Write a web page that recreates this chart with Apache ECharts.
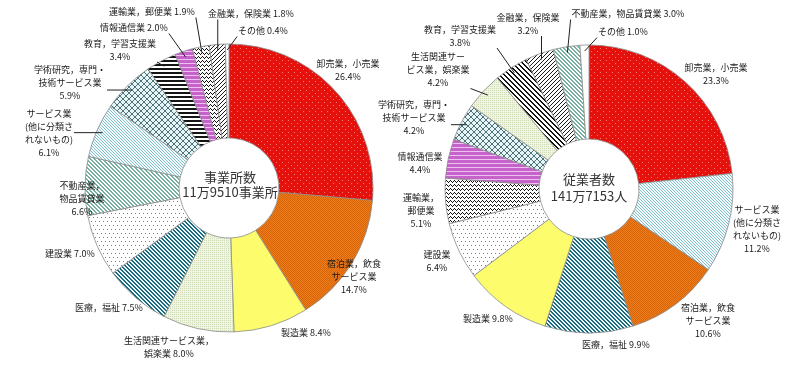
<!DOCTYPE html>
<html><head><meta charset="utf-8">
<script src="https://cdn.jsdelivr.net/npm/echarts@6/dist/echarts.min.js"></script>
<style>html,body{margin:0;padding:0;background:#fff}#c{width:800px;height:372px}</style>
</head><body><div id="c"></div>
<script>
// ---- data ----
const leftCategories = ['卸売業，小売業','宿泊業，飲食サービス業','製造業','生活関連サービス業，娯楽業','医療，福祉','建設業','不動産業，物品賃貸業','サービス業（他に分類されないもの）','学術研究，専門・技術サービス業','教育，学習支援業','情報通信業','運輸業，郵便業','金融業，保険業','その他'];
const leftValues = [26.4,14.7,8.4,8.0,7.5,7.0,6.6,6.1,5.9,3.4,2.0,1.9,1.8,0.4];
const leftLabelNames = ['卸売業，小売業\n','宿泊業，飲食\nサービス業\n','製造業 ','生活関連サービス業，\n娯楽業 ','医療，福祉 ','建設業 ','不動産業，\n物品賃貸業\n','サービス業\n(他に分類さ\nれないもの)\n','学術研究，専門・\n技術サービス業\n','教育，学習支援業\n','情報通信業 ','運輸業，郵便業 ','金融業，保険業 ','その他 '];
const leftCenterText = ['事業所数','11万9510事業所'];

const rightCategories = ['卸売業，小売業','サービス業（他に分類されないもの）','宿泊業，飲食サービス業','医療，福祉','製造業','建設業','運輸業，郵便業','情報通信業','学術研究，専門・技術サービス業','生活関連サービス業，娯楽業','教育，学習支援業','金融業，保険業','不動産業，物品賃貸業','その他'];
const rightValues = [23.3,11.2,10.6,9.9,9.8,6.4,5.1,4.4,4.2,4.2,3.8,3.2,3.0,1.0];
const rightLabelNames = ['卸売業，小売業\n','サービス業\n(他に分類さ\nれないもの)\n','宿泊業，飲食\nサービス業\n','医療，福祉 ','製造業 ','建設業\n','運輸業，\n郵便業\n','情報通信業\n','学術研究，専門・\n技術サービス業\n','生活関連サー\nビス業，娯楽業\n','教育，学習支援業\n','金融業，保険業\n','不動産業，物品賃貸業 ','その他 '];
const rightCenterText = ['従業者数','141万7153人'];

// ---- layout (label centre offsets from pie centre, leader-line flags) ----
const leftLayout = {
  cx: 229, cy: 188,
  offsets: [[119,-118],[125,89],[77,145],[-60,159],[-120,120],[-159,66],[-147,11],[-180,-55],[-159,-105],[-109,-138],[-95,-160],[-77,-176],[22,-174],[34,-157]],
  lines: [0,0,0,0,0,0,0,1,1,1,1,1,1,1]
};
const rightLayout = {
  cx: 589, cy: 189,
  offsets: [[127,-115],[168,40],[119,132],[27,156],[-101,130],[-152,72],[-168,22],[-169,-26],[-175,-71],[-151,-119],[-129,-153],[-61,-165],[39,-175],[34,-157]],
  lines: [0,0,0,0,0,0,0,0,1,1,1,1,1,1]
};
const R_IN = 50, R_OUT = 144, R_LINE = 138;

// ---- patterns ----
function tile(w, h, bg, draw) {
  const c = document.createElement('canvas'); c.width = w; c.height = h;
  const g = c.getContext('2d'); g.fillStyle = bg; g.fillRect(0, 0, w, h);
  draw && draw(g);
  return { image: c, repeat: 'repeat' };
}
function px(g, col, pts) { g.fillStyle = col; pts.forEach(p => g.fillRect(p[0], p[1], 1, 1)); }
function diag(p, thick, col, bg, dir) {
  return tile(p, p, bg, g => {
    const pts = [];
    for (let i = 0; i < p; i++) for (let t = 0; t < thick; t++) {
      pts.push(dir === '\\' ? [i, (i + t) % p] : [i, (p - 1 - i + t + p) % p]);
    }
    px(g, col, pts);
  });
}
function horiz(p, thick, col, bg) {
  return tile(4, p, bg, g => { g.fillStyle = col; g.fillRect(0, 0, 4, thick); });
}
const patterns = {
  red: tile(6, 6, '#e5110d', g => px(g, '#f57a72', [[0,0],[3,3]])),
  orange: tile(2, 2, '#ee7c18', g => px(g, '#d5640a', [[0,0],[1,1]])),
  yellow: '#fcfc6c',
  lifeGreen: tile(2, 2, '#eff5e2', g => px(g, '#cfdcb6', [[0,0]])),
  medTeal: diag(4, 2, '#1d6a7e', '#eaf5f5', '\\'),
  constr: tile(8, 8, '#ffffff', g => px(g, '#7d7d7d', [[1,1],[5,1],[3,5],[7,5]])),
  realTeal: diag(4, 2, '#77b0a0', '#ffffff', '\\'),
  servBlue: diag(3, 1, '#86c0ca', '#f2fafb', '\\'),
  cross: tile(6, 6, '#e6f5f5', g => {
    const pts = []; for (let i = 0; i < 6; i++) { pts.push([i, i]); pts.push([i, 5 - i]); }
    px(g, '#4f7179', pts);
  }),
  eduH: horiz(4, 2, '#141414', '#ffffff'),
  eduD: diag(5, 2, '#141414', '#ffffff', '\\'),
  violet: horiz(4, 3, '#c563cb', '#f0c0f2'),
  zigzag: tile(4, 4, '#ffffff', g => px(g, '#111111', [[0,2],[1,1],[2,0],[3,1]])),
  finDiag: diag(4, 1, '#1a1a1a', '#ffffff', '/'),
  white: '#ffffff'
};
const patternOf = {
  '卸売業，小売業': 'red', '宿泊業，飲食サービス業': 'orange', '製造業': 'yellow',
  '生活関連サービス業，娯楽業': 'lifeGreen', '医療，福祉': 'medTeal', '建設業': 'constr',
  '不動産業，物品賃貸業': 'realTeal', 'サービス業（他に分類されないもの）': 'servBlue',
  '学術研究，専門・技術サービス業': 'cross', '教育，学習支援業': 'eduH', '情報通信業': 'violet',
  '運輸業，郵便業': 'zigzag', '金融業，保険業': 'finDiag', 'その他': 'white'
};

const FONT = '"Noto Sans CJK JP", "Noto Sans", sans-serif';
const LABEL_FONT = '9px ' + FONT, LABEL_LH = 13;
const measureCtx = document.createElement('canvas').getContext('2d');
measureCtx.font = LABEL_FONT;

function buildSeries(cats, vals, layout, eduKey) {
  const data = cats.map((c, i) => {
    let key = patternOf[c];
    if (key === 'eduH') key = eduKey;
    return { name: c, value: vals[i], itemStyle: { color: patterns[key] } };
  });
  return {
    type: 'pie', center: [layout.cx, layout.cy], radius: [R_IN, R_OUT],
    startAngle: 90, clockwise: true, animation: false, silent: true,
    itemStyle: { borderColor: '#8c8c8c', borderWidth: 0.8 },
    label: { show: false }, labelLine: { show: false },
    emphasis: { disabled: true },
    data
  };
}

// labels and leader lines, placed from the slice angles computed from the data
function buildLabels(vals, names, layout) {
  const out = [];
  const sum = vals.reduce((a, b) => a + b, 0);
  let cum = 0;
  vals.forEach((v, i) => {
    const a = (cum + v / 2) / sum * 2 * Math.PI; cum += v;
    const text = names[i] + v.toFixed(1) + '%';
    const x = layout.cx + layout.offsets[i][0], y = layout.cy + layout.offsets[i][1];
    const lines = text.split('\n');
    const w = Math.max.apply(null, lines.map(l => measureCtx.measureText(l).width));
    const h = lines.length * LABEL_LH;
    out.push({ type: 'text', x: x, y: y, z: 10, silent: true,
      style: { text: text, align: 'center', verticalAlign: 'middle', font: LABEL_FONT, lineHeight: LABEL_LH, fill: '#1a1a1a' } });
    if (layout.lines[i]) {
      const sx = layout.cx + R_LINE * Math.sin(a), sy = layout.cy - R_LINE * Math.cos(a);
      const qx = Math.min(Math.max(sx, x - w / 2 - 1), x + w / 2 + 1);
      const qy = Math.min(Math.max(sy, y - h / 2 + 2), y + h / 2 - 1);
      out.push({ type: 'line', z: 10, silent: true,
        shape: { x1: sx, y1: sy, x2: qx, y2: qy },
        style: { stroke: '#222', lineWidth: 1 } });
    }
  });
  return out;
}

const chart = echarts.init(document.getElementById('c'), null, { renderer: 'canvas' });
chart.setOption({
  backgroundColor: '#ffffff',
  animation: false,
  series: [
    buildSeries(leftCategories, leftValues, leftLayout, 'eduH'),
    buildSeries(rightCategories, rightValues, rightLayout, 'eduD')
  ],
  graphic: [].concat(
    buildLabels(leftValues, leftLabelNames, leftLayout),
    buildLabels(rightValues, rightLabelNames, rightLayout),
    [
      { type: 'text', x: leftLayout.cx + 1, y: leftLayout.cy - 3, z: 10, silent: true,
        style: { text: leftCenterText.join('\n'), align: 'center', verticalAlign: 'middle', fill: '#333', font: '13px ' + FONT, lineHeight: 15 } },
      { type: 'text', x: rightLayout.cx, y: rightLayout.cy - 1, z: 10, silent: true,
        style: { text: rightCenterText.join('\n'), align: 'center', verticalAlign: 'middle', fill: '#333', font: '13px ' + FONT, lineHeight: 17 } }
    ]
  )
});
</script></body></html>
